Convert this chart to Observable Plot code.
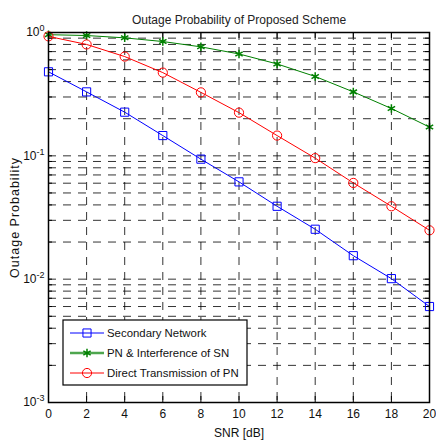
<!DOCTYPE html>
<html><head><meta charset="utf-8">
<script src="https://cdn.jsdelivr.net/npm/d3@7"></script>
<script src="https://cdn.jsdelivr.net/npm/@observablehq/plot@0.6"></script>
<style>
body{margin:0;background:#fff}
#chart{width:436px;height:440px}
</style>
</head><body><div id="chart"></div>
<script>
// ---- data ----
const snr = [0, 2, 4, 6, 8, 10, 12, 14, 16, 18, 20];
const secondaryNetwork = [0.48, 0.33, 0.226, 0.146, 0.094, 0.0615, 0.039, 0.0254, 0.0155, 0.0101, 0.0060];
const pnInterference   = [0.96, 0.945, 0.905, 0.845, 0.765, 0.67, 0.556, 0.44, 0.33, 0.242, 0.171];
const directPN         = [0.93, 0.80, 0.638, 0.473, 0.327, 0.224, 0.146, 0.0958, 0.0603, 0.039, 0.0249];
const seriesNames = ["Secondary Network", "PN & Interference of SN", "Direct Transmission of PN"];
const seriesColors = ["#0000ff", "#008000", "#ff0000"];
const legendLineColors = ["#0000ff", "#4ea64e", "#ff0000"];
const seriesSymbols = ["square", "asterisk", "circle"];
const xTicks = [0, 2, 4, 6, 8, 10, 12, 14, 16, 18, 20];
const yMajorTicks = [1, 0.1, 0.01, 0.001];
const yExponents = ["0", "-1", "-2", "-3"];
const titleText = "Outage Probability of Proposed Scheme";
const xLabel = "SNR [dB]";
const yLabel = "Outage Probability";

// ---- build tables ----
const seriesValues = [secondaryNetwork, pnInterference, directPN];
const table = seriesNames.flatMap((name, i) => snr.map((s, j) => ({series: name, snr: s, value: seriesValues[i][j]})));
const yMinor = [];
for (const dec of [0.001, 0.01, 0.1]) for (let m = 2; m <= 9; m++) yMinor.push(+(m * dec).toPrecision(3));
const yGrid = yMinor.concat([0.01, 0.1]);

const W = 436, H = 440, mL = 48, mR = 7, mT = 32, mB = 38;
const pw = W - mL - mR, ph = H - mT - mB;
const font = '"Liberation Sans", Arial, sans-serif';
const dash = "8,7";

const marks = [
  Plot.ruleY(yGrid, {stroke: "#000", strokeDasharray: dash, strokeOpacity: 0.8}),
  Plot.ruleX(xTicks.slice(1, -1), {stroke: "#000", strokeDasharray: dash, strokeOpacity: 0.8}),
  // inward ticks
  Plot.ruleX(xTicks, {stroke: "#000", insetTop: ph - 6}),
  Plot.ruleX(xTicks, {stroke: "#000", insetBottom: ph - 6}),
  Plot.ruleY(yMajorTicks.concat(yMinor), {stroke: "#000", insetRight: pw - 4}),
  Plot.ruleY(yMajorTicks.concat(yMinor), {stroke: "#000", insetLeft: pw - 4}),
];
seriesNames.forEach((name, i) => {
  const d = table.filter(r => r.series === name);
  marks.push(Plot.line(d, {x: "snr", y: "value", stroke: seriesColors[i], strokeWidth: 1}));
  marks.push(Plot.dot(d, {x: "snr", y: "value", stroke: seriesColors[i], fill: "none",
    symbol: seriesSymbols[i], r: seriesSymbols[i] === "asterisk" ? 4 : 4.6, strokeWidth: seriesSymbols[i] === "asterisk" ? 1.5 : 1}));
});
marks.push(Plot.frame({stroke: "#000", strokeWidth: 1.5}));
marks.push(Plot.text([titleText], {frameAnchor: "top", dy: -17, fontSize: 12, fill: "#222"}));

const chart = Plot.plot({
  width: W, height: H,
  marginLeft: mL, marginRight: mR, marginTop: mT, marginBottom: mB,
  style: {fontSize: "12px", fontFamily: font, color: "#111", background: "#fff"},
  x: {domain: [0, 20], ticks: xTicks, tickSize: 0, tickPadding: 7, label: xLabel, labelAnchor: "center", labelOffset: 34, labelArrow: "none"},
  y: {type: "log", domain: [0.001, 1], ticks: yMajorTicks, tickSize: 0, tickPadding: 4,
      tickFormat: d => yExponents[yMajorTicks.indexOf(d)], label: yLabel, labelAnchor: "center", labelOffset: 38, labelArrow: "none"},
  marks
});
document.getElementById("chart").appendChild(chart);

const svg = d3.select(chart);
// render "10" with superscript exponent on y tick labels
svg.selectAll('g[aria-label="y-axis tick label"] text').each(function() {
  const t = d3.select(this);
  const exp = t.text();
  t.text("10");
  t.append("tspan").attr("dy", "-0.55em").attr("font-size", "9px").text(exp);
});
svg.selectAll('g[aria-label="y-axis label"] text').attr("letter-spacing", "1px").attr("font-size", "12.5px");

// legend
const lx = 63, ly = 320, lw = 184, lh = 65;
const lg = svg.append("g").attr("font-family", font).attr("font-size", 11.4).attr("text-anchor", "start");
lg.append("rect").attr("x", lx).attr("y", ly).attr("width", lw).attr("height", lh).attr("fill", "#fff").attr("stroke", "#000").attr("stroke-width", 1.2);
seriesNames.forEach((name, i) => {
  const cy = ly + 13 + i * 20;
  lg.append("line").attr("x1", lx + 7).attr("x2", lx + 41).attr("y1", cy).attr("y2", cy)
    .attr("stroke", legendLineColors[i]).attr("stroke-width", i === 1 ? 2.5 : 1);
  const sym = {square: d3.symbolSquare, circle: d3.symbolCircle, asterisk: d3.symbolAsterisk}[seriesSymbols[i]];
  const size = seriesSymbols[i] === "asterisk" ? 50 : 66;
  lg.append("path").attr("d", d3.symbol(sym, size)()).attr("transform", `translate(${lx + 24},${cy})`)
    .attr("fill", "none").attr("stroke", seriesColors[i]).attr("stroke-width", seriesSymbols[i] === "asterisk" ? 1.5 : 1);
  lg.append("text").attr("x", lx + 44).attr("y", cy).attr("dy", "0.35em").attr("text-anchor", "start").attr("fill", "#111").text(name);
});
</script>
</body></html>
